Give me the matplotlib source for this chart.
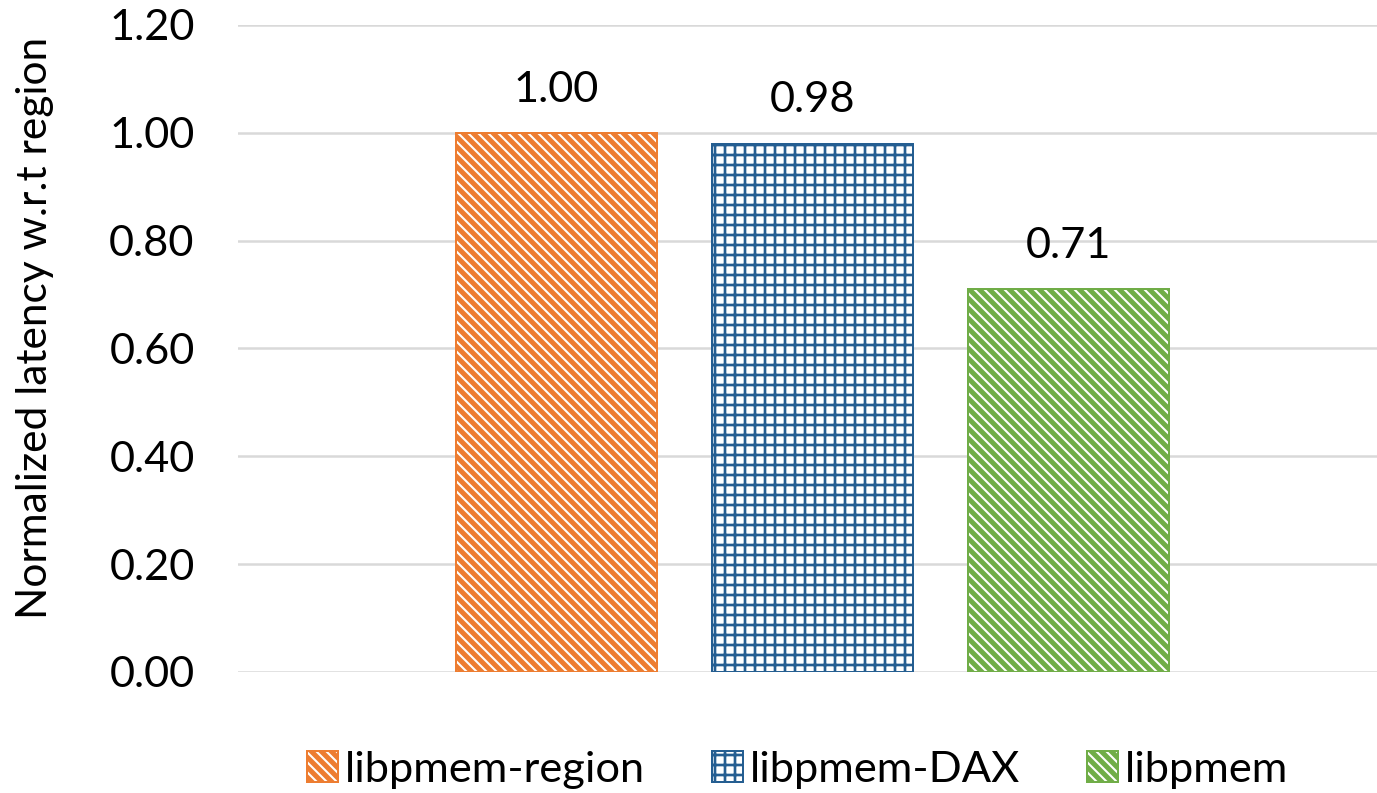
import matplotlib
matplotlib.use("Agg")
import matplotlib.pyplot as plt

plt.rcParams["font.family"] = ["Lato", "DejaVu Sans"]

series = ["libpmem-region", "libpmem-DAX", "libpmem"]
values = [1.00, 0.98, 0.71]
colors = ["#ED7D31", "#255E91", "#70AD47"]
hatches = ["\\\\\\\\", "++", "\\\\\\\\"]
hatch_lw = [3.0, 1.6, 3.0]
yticks = [0.0, 0.2, 0.4, 0.6, 0.8, 1.0, 1.2]

dpi = 120
fig = plt.figure(figsize=(1377 / dpi, 793 / dpi), dpi=dpi)
ax = fig.add_axes([0.1728, 0.1526, 0.8272, 0.8159])

for i, (name, v, c, h) in enumerate(zip(series, values, colors, hatches)):
    with plt.rc_context({"hatch.linewidth": hatch_lw[i]}):
        ax.bar(i, v, width=0.785, facecolor="white", edgecolor=c, hatch=h,
               linewidth=1.2, label=name, zorder=3)
    ax.text(i, v + 0.08, f"{v:.2f}", ha="center", va="center", fontsize=26)

ax.set_xlim(-1.244, 3.205)
ax.set_ylim(0, 1.2)
ax.set_yticks(yticks)
ax.set_yticklabels([f"{t:.2f}" for t in yticks], fontsize=26)
ax.set_xticks([])
ax.tick_params(axis="y", length=0, pad=26)
ax.yaxis.grid(True, color="#D9D9D9", linewidth=1.5, zorder=0)
ax.set_axisbelow(True)
for s in ax.spines.values():
    s.set_visible(False)

fig.text(0.0254, 0.587, "Normalized latency w.r.t region", rotation=90,
         ha="center", va="center", fontsize=25.5)

leg = fig.legend(loc="center", bbox_to_anchor=(0.579, 0.029), ncol=3,
                 frameon=False, fontsize=26, handlelength=0.72, handleheight=0.72,
                 handletextpad=0.15, columnspacing=1.55)
# legend patches do not keep the bar's hatch width, so put it back
for hdl, lw in zip(leg.legend_handles, hatch_lw):
    if hasattr(hdl, "set_hatch_linewidth"):
        hdl.set_hatch_linewidth(lw)
    else:
        hdl._hatch_linewidth = lw

fig.savefig("out.png", dpi=dpi)
